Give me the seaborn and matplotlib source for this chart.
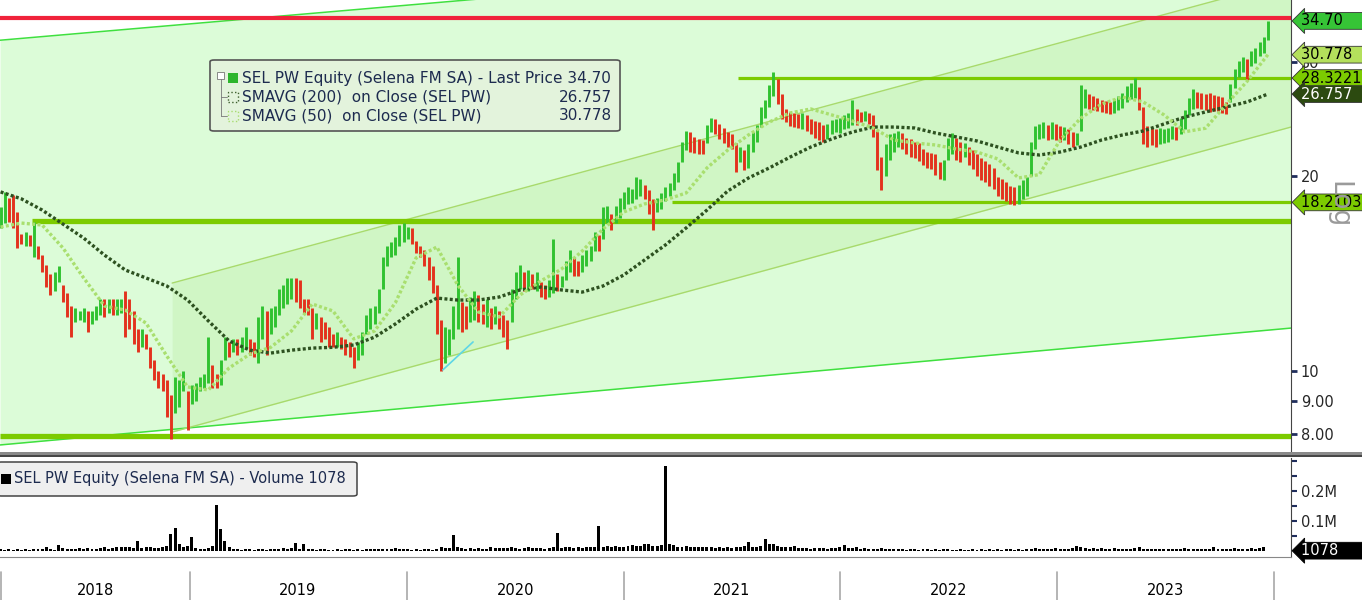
import numpy as np
import pandas as pd
import matplotlib
matplotlib.use("Agg")
import matplotlib.pyplot as plt
import matplotlib.dates as mdates
import matplotlib.transforms as mtransforms
from matplotlib.patches import FancyBboxPatch, Rectangle
from matplotlib.lines import Line2D
from matplotlib.ticker import NullLocator, NullFormatter
import seaborn as sns

W, H = 1362, 600

# --- values: weekly price ranges (PLN), volume in thousands ---
first_week = "2018-02-16"
week_low = [
    16.6, 16.9, 17.0, 16.6, 15.5, 15.7, 15.6, 15.6, 15.0, 14.9,
    14.2, 13.5, 13.1, 13.3, 13.7, 12.8, 12.1, 11.3, 11.9, 12.0,
    11.9, 11.5, 11.8, 12.0, 12.2, 12.1, 12.3, 12.2, 12.2, 12.3,
    11.3, 11.6, 11.0, 10.7, 10.9, 10.8, 10.1, 9.7, 9.4, 9.3,
    8.5, 7.85, 8.6, 8.8, 9.3, 8.1, 8.9, 9.0, 9.3, 9.4,
    9.6, 9.4, 9.4, 9.5, 10.4, 10.5, 10.7, 10.6, 10.7, 10.8,
    10.6, 10.5, 10.3, 11.2, 10.6, 11.4, 11.7, 12.2, 12.5, 12.7,
    12.9, 12.8, 12.5, 12.3, 12.2, 11.2, 11.6, 11.1, 11.2, 10.9,
    10.9, 10.9, 10.8, 10.6, 10.5, 10.1, 10.4, 10.6, 11.4, 11.6,
    11.8, 12.3, 13.4, 14.5, 15.0, 15.1, 15.6, 15.8, 16.0, 15.7,
    15.2, 15.0, 14.5, 13.8, 13.2, 11.4, 10.0, 10.3, 10.6, 11.2,
    11.6, 11.5, 11.6, 11.9, 12.0, 11.9, 11.8, 11.7, 11.6, 11.8,
    11.6, 11.3, 10.8, 11.9, 12.9, 13.4, 13.3, 13.3, 13.4, 13.3,
    13.0, 12.9, 13.0, 13.2, 13.3, 13.5, 13.8, 14.2, 14.0, 14.0,
    14.2, 14.5, 14.8, 15.3, 15.3, 16.0, 16.9, 16.5, 16.9, 17.2,
    17.8, 18.1, 18.2, 18.4, 18.6, 18.4, 17.5, 16.5, 17.6, 17.8,
    18.3, 18.6, 19.0, 19.6, 21.0, 21.9, 21.8, 21.7, 21.6, 21.6,
    22.5, 23.4, 23.2, 22.8, 22.5, 22.2, 22.0, 20.3, 21.0, 20.4,
    20.6, 21.8, 22.6, 23.8, 24.6, 25.6, 26.6, 25.8, 24.5, 24.2,
    23.9, 23.8, 23.7, 23.6, 23.5, 23.2, 22.9, 22.7, 22.6, 22.8,
    23.2, 23.4, 23.3, 23.6, 23.7, 24.0, 24.0, 24.2, 24.3, 24.1,
    23.0, 20.4, 19.0, 20.0, 21.2, 21.8, 22.2, 22.0, 21.6, 21.4,
    21.3, 21.1, 20.8, 20.6, 20.5, 20.1, 19.8, 19.7, 21.2, 21.6,
    21.2, 21.0, 21.4, 20.8, 20.5, 20.0, 19.7, 19.6, 19.3, 19.1,
    18.6, 18.4, 18.3, 18.1, 18.05, 18.1, 18.4, 18.6, 20.0, 22.0,
    22.8, 22.9, 22.7, 22.8, 22.7, 22.6, 22.7, 22.4, 22.2, 22.3,
    23.5, 25.5, 25.4, 25.3, 25.2, 25.1, 25.0, 24.9, 25.0, 25.3,
    25.5, 26.0, 26.3, 26.4, 25.3, 22.4, 22.2, 22.3, 22.2, 22.4,
    22.5, 22.6, 22.8, 22.7, 23.2, 23.6, 24.8, 25.4, 25.5, 25.4,
    25.3, 25.1, 25.2, 25.2, 25.0, 24.9, 26.0, 27.3, 28.4, 28.9,
    28.1, 29.6, 29.9, 30.6, 31.0, 32.4,
]
week_high = [
    17.9, 18.9, 18.5, 18.7, 17.6, 16.3, 16.4, 16.2, 17.0, 15.6,
    15.1, 14.6, 14.1, 14.2, 14.5, 13.6, 13.2, 12.6, 12.5, 12.4,
    12.5, 12.4, 12.4, 12.6, 12.9, 12.9, 12.9, 12.9, 12.9, 12.9,
    13.3, 12.9, 12.4, 11.6, 11.6, 11.4, 10.9, 10.4, 10.0, 9.9,
    9.7, 9.2, 9.8, 9.7, 10.0, 9.3, 9.5, 9.6, 9.8, 9.9,
    11.3, 10.2, 9.9, 10.4, 11.3, 11.1, 11.2, 11.2, 11.3, 11.7,
    11.2, 11.1, 12.1, 12.6, 12.4, 12.5, 12.6, 13.4, 13.6, 13.9,
    13.9, 13.9, 13.8, 12.9, 12.9, 12.5, 12.3, 12.1, 11.9, 11.7,
    11.4, 11.5, 11.3, 11.2, 11.1, 10.9, 11.1, 11.5, 12.2, 12.5,
    12.6, 13.4, 15.0, 15.6, 15.8, 16.1, 16.8, 16.9, 16.7, 16.6,
    15.9, 15.6, 15.4, 15.0, 14.5, 13.6, 12.0, 11.7, 11.6, 12.6,
    15.0, 12.8, 12.6, 13.0, 13.3, 13.1, 12.7, 12.9, 12.5, 12.6,
    12.4, 12.2, 12.0, 13.4, 14.2, 14.6, 14.2, 14.3, 14.1, 14.2,
    13.7, 13.6, 13.8, 16.0, 14.1, 14.0, 14.8, 15.4, 15.0, 14.8,
    15.1, 15.4, 15.6, 16.4, 16.2, 17.9, 18.0, 17.5, 18.0, 18.5,
    18.9, 19.2, 19.1, 19.9, 19.8, 19.4, 19.0, 18.4, 18.5, 18.8,
    19.2, 19.5, 20.2, 21.0, 22.6, 23.5, 23.4, 23.0, 22.8, 22.7,
    24.0, 24.6, 24.5, 24.1, 23.7, 23.4, 23.2, 22.5, 22.2, 21.9,
    22.4, 23.4, 24.0, 25.6, 26.2, 27.6, 28.9, 28.2, 26.8, 25.4,
    25.1, 25.0, 24.9, 25.0, 24.8, 24.5, 24.3, 24.2, 24.0, 24.1,
    24.4, 24.5, 24.6, 24.8, 25.0, 26.2, 25.4, 25.1, 25.2, 25.0,
    24.8, 23.5, 21.4, 22.4, 23.2, 23.3, 23.5, 23.3, 22.9, 22.8,
    22.6, 22.5, 22.0, 21.8, 21.7, 21.6, 21.0, 21.2, 22.9, 23.3,
    22.9, 22.6, 22.5, 22.2, 21.9, 21.6, 21.3, 21.1, 20.9, 20.6,
    19.9, 19.8, 19.6, 19.3, 19.2, 19.4, 19.7, 19.9, 22.6, 23.9,
    24.1, 24.2, 24.0, 24.2, 24.1, 23.9, 23.8, 23.6, 23.4, 23.3,
    27.6, 27.2, 26.8, 26.6, 26.4, 26.2, 26.1, 26.0, 26.3, 26.6,
    26.9, 27.5, 27.8, 28.3, 27.4, 25.6, 23.9, 23.7, 23.6, 23.7,
    23.6, 23.7, 23.9, 23.8, 24.6, 25.3, 26.4, 27.2, 27.0, 26.9,
    26.8, 26.9, 26.7, 26.6, 26.5, 26.0, 27.7, 29.2, 30.1, 30.5,
    30.3, 31.2, 31.5, 32.2, 32.8, 34.7,
]
volume_k = [
    6, 5, 7, 4, 6, 5, 8, 5, 6, 7,
    8, 12, 6, 5, 20, 9, 7, 6, 8, 10,
    7, 9, 6, 8, 10, 14, 7, 9, 13, 12,
    14, 12, 11, 35, 9, 12, 14, 10, 9, 12,
    18, 57, 77, 22, 15, 18, 47, 10, 6, 8,
    9, 17, 153, 73, 33, 12, 8, 6, 5, 7,
    6, 5, 7, 6, 5, 8, 6, 7, 9, 7,
    10, 27, 8, 25, 7, 6, 5, 7, 6, 5,
    5, 6, 5, 7, 6, 5, 6, 5, 7, 6,
    7, 6, 8, 7, 6, 9, 8, 6, 7, 5,
    6, 5, 7, 6, 5, 8, 12, 9, 10, 53,
    12, 9, 8, 10, 7, 9, 8, 7, 12, 10,
    9, 11, 10, 13, 9, 8, 11, 12, 10, 9,
    10, 8, 11, 14, 60, 9, 12, 15, 11, 13,
    10, 14, 12, 15, 83, 13, 16, 14, 18, 15,
    14, 17, 20, 16, 18, 22, 25, 18, 16, 20,
    283, 24, 19, 15, 13, 17, 14, 12, 15, 13,
    14, 12, 11, 13, 10, 12, 11, 14, 12, 16,
    30, 14, 12, 18, 40, 25, 22, 18, 13, 15,
    12, 16, 11, 9, 10, 8, 9, 10, 11, 8,
    9, 10, 12, 20, 11, 10, 14, 8, 9, 7,
    8, 7, 9, 6, 7, 8, 6, 7, 5, 6,
    6, 5, 6, 7, 5, 6, 5, 7, 6, 5,
    5, 6, 5, 4, 6, 5, 7, 5, 6, 5,
    6, 5, 7, 6, 5, 6, 5, 7, 8, 9,
    7, 6, 8, 7, 9, 8, 6, 7, 10, 16,
    12, 9, 8, 10, 7, 9, 8, 7, 9, 8,
    7, 8, 6, 9, 14, 7, 6, 8, 7, 6,
    7, 6, 8, 7, 6, 9, 7, 6, 8, 7,
    6, 8, 13, 7, 6, 8, 7, 9, 6, 7,
    8, 9, 7, 10, 12, 1.078,
]
# moving averages sampled every 5th week
sma200 = [
    18.90, 18.44, 17.72, 16.86, 16.04, 15.10, 14.32, 13.92, 13.53, 12.87,
    11.95, 11.13, 10.77, 10.66, 10.77, 10.85, 10.88, 10.97, 11.28, 11.82,
    12.46, 12.96, 12.87, 12.87, 13.01, 13.34, 13.48, 13.34, 13.24, 13.53,
    14.07, 14.84, 15.65, 16.63, 17.72, 18.96, 19.86, 20.58, 21.39, 22.17,
    22.81, 23.38, 23.80, 23.80, 23.72, 23.30, 22.98, 22.65, 22.17, 21.71,
    21.55, 21.78, 22.17, 22.73, 23.14, 23.47, 24.06, 24.66, 25.11, 25.56,
    26.02, 26.757,
]
sma50 = [
    16.68, 16.92, 16.80, 15.49, 13.92, 12.60, 12.42, 11.86, 10.55, 9.45,
    9.35, 10.11, 10.62, 10.88, 11.53, 12.69, 12.38, 11.21, 11.53, 12.74,
    14.95, 15.54, 13.58, 12.33, 12.12, 13.10, 13.77, 14.37, 15.32, 16.57,
    17.60, 18.11, 18.37, 18.83, 20.58, 21.93, 23.14, 24.23, 25.02, 25.38,
    24.85, 24.32, 23.72, 22.73, 22.49, 22.33, 22.01, 21.78, 21.25, 19.86,
    20.10, 22.73, 24.57, 25.83, 26.48, 26.02, 24.85, 23.40, 23.70, 25.80,
    28.00, 30.778,
]

view_start, view_end = "2018-02-15", "2024-01-30"

outer_channel_x = ["2018-02-15", "2024-01-30"]
outer_channel_low = [7.69, 11.65]
outer_channel_high = [32.4, 48.1]
inner_channel_x = ["2018-12-02", "2024-01-30"]
inner_channel_low = [8.05, 23.8]
inner_channel_high = [13.67, 40.1]
cyan_x = ["2020-03-02", "2020-04-22"]
cyan_y = [10.04, 11.09]

level_start = ["2018-02-15", "2018-04-10", "2021-03-23", "2021-07-13", "2018-02-15"]
level_value = [35.1, 17.04, 18.2103, 28.3221, 7.94]

tag_value = [34.70, 30.778, 28.3221, 26.757, 18.2103]
tag_label = ["34.70", "30.778", "28.3221", "26.757", "18.2103"]
price_ticks = [8, 9, 10, 20, 30]
price_tick_labels = ["8.00", "9.00", "10", "20", "30"]
years = [2018, 2019, 2020, 2021, 2022, 2023]
last_volume = 1078

# ---------------------

sns.set_style("white")
plt.rcParams["font.family"] = ["DejaVu Sans"]

d2n = lambda s: mdates.date2num(pd.to_datetime(s))
dates = pd.date_range(first_week, periods=len(week_low), freq="7D")
xd = mdates.date2num(dates)
lo = np.array(week_low)
hi = np.array(week_high)
mid = (lo + hi) / 2
up = np.r_[True, mid[1:] >= mid[:-1]]
bar_colors = np.where(up, "#30c230", "#e3321d")
x0, x1 = d2n(view_start), d2n(view_end)


def fx(x):
    return x / W


def fy(y):
    return 1 - y / H


fig = plt.figure(figsize=(W / 100, H / 100), dpi=100)
right_px = 1291
axp = fig.add_axes([0, fy(452), fx(right_px), 452 / H])
axv = fig.add_axes([0, fy(557), fx(right_px), (557 - 458) / H])
axd = fig.add_axes([0, 0, fx(right_px), 37 / H])

# price panel
axp.set_facecolor("white")
axp.set_yscale("log")
axp.set_ylim(7.50, 37.38)
axp.set_xlim(x0, x1)

ox = d2n(outer_channel_x)
ix = d2n(inner_channel_x)
axp.fill_between(ox, outer_channel_low, outer_channel_high, color="#dcfcd8", lw=0, zorder=0)
axp.fill_between(ix, inner_channel_low, inner_channel_high, color="#d0f6c5", lw=0, zorder=0.5)
axp.plot(ox, outer_channel_low, color="#3fe03f", lw=1.1, zorder=1)
axp.plot(ox, outer_channel_high, color="#3fe03f", lw=1.1, zorder=1)
axp.plot(ix, inner_channel_low, color="#a8da6c", lw=1.0, zorder=1)
axp.plot(ix, inner_channel_high, color="#a8da6c", lw=1.0, zorder=1)
axp.plot(d2n(cyan_x), cyan_y, color="#5ed6e6", lw=1.2, zorder=3.5)

level_colors = ["#f0233b", "#7ccb00", "#7ccb00", "#7ccb00", "#7ccb00"]
level_widths = [3.0, 3.8, 2.3, 2.3, 3.8]
for s, v, c, w in zip(level_start, level_value, level_colors, level_widths):
    axp.hlines(v, d2n(s), x1, color=c, lw=w, zorder=2)

axp.vlines(xd, lo, hi, colors=bar_colors, lw=2.1, zorder=3)

sma_x = xd[::5]
sns.lineplot(x=sma_x, y=sma200, ax=axp, color="#2d5120", lw=2.4,
             linestyle=(0, (0.9, 0.7)), legend=False, zorder=4)
sns.lineplot(x=sma_x, y=sma50, ax=axp, color="#a9df6f", lw=2.4,
             linestyle=(0, (0.9, 0.7)), legend=False, zorder=4)

for s in ["top", "left", "bottom"]:
    axp.spines[s].set_visible(False)
axp.spines["right"].set_color("#444444")
axp.yaxis.tick_right()
axp.set_yticks(price_ticks)
axp.set_yticklabels(price_tick_labels)
axp.yaxis.set_minor_locator(NullLocator())
axp.yaxis.set_minor_formatter(NullFormatter())
axp.tick_params(axis="y", which="major", direction="out", length=4, width=2,
                color="#1f2d5c", labelsize=10.5, pad=3)
axp.tick_params(axis="x", bottom=False, labelbottom=False)
axp.set_xlabel("")
axp.set_ylabel("")

tag_style = [("#36c436", "black"), ("#b4e05c", "black"), ("#7ccb00", "black"),
             ("#2c4a10", "white"), ("#7ccb00", "black")]
trans = mtransforms.blended_transform_factory(axp.transAxes, axp.transData)
for v, t, (fc, tc) in zip(tag_value, tag_label, tag_style):
    axp.text(1.0075, v, t + "        ", transform=trans, ha="left", va="center",
             fontsize=10.5, color=tc, clip_on=False, zorder=10,
             bbox=dict(boxstyle="larrow,pad=0.06", fc=fc, ec="#333333", lw=0.6))

# volume panel
axv.set_facecolor("white")
axv.bar(xd, volume_k, width=5, color="black", lw=0, zorder=2)
axv.set_xlim(x0, x1)
axv.set_ylim(-20, 310)
for s in ["top", "left"]:
    axv.spines[s].set_visible(False)
axv.spines["right"].set_color("#444444")
axv.spines["bottom"].set_color("#888888")
axv.yaxis.tick_right()
axv.set_yticks([100, 200])
axv.set_yticklabels(["0.1M", "0.2M"])
axv.set_yticks([50, 150, 250, 300], minor=True)
axv.tick_params(axis="y", which="both", direction="out", length=4, width=1.5,
                color="#1f2d5c", labelsize=10.5, pad=3)
axv.xaxis.set_major_locator(mdates.MonthLocator())
axv.xaxis.set_major_formatter(NullFormatter())
axv.tick_params(axis="x", direction="out", length=5, width=1, color="#555555")
axv.set_xlabel("")
axv.set_ylabel("")
transv = mtransforms.blended_transform_factory(axv.transAxes, axv.transData)
axv.text(1.0075, last_volume / 1000, f"{last_volume}" + "          ", transform=transv,
         ha="left", va="center", fontsize=10.5, color="white", clip_on=False, zorder=10,
         bbox=dict(boxstyle="larrow,pad=0.06", fc="black", ec="black", lw=0.6))

# date band
axd.set_xlim(x0, x1)
axd.set_ylim(0, 1)
axd.axis("off")
bounds = [x0 + 1] + [d2n(f"{y + 1}-01-01") for y in years]
for b in bounds:
    axd.axvline(b, ymin=0, ymax=0.76, color="#a8a8a8", lw=1.2)
for i, y in enumerate(years):
    centre = (bounds[i] + bounds[i + 1]) / 2 if i == 0 else d2n(f"{y}-07-02")
    axd.text(centre, 0.27, str(y), ha="center", va="center", fontsize=10.5, color="black")

# separator between panels
fig.add_artist(Rectangle((0, fy(457)), 1, 5 / H, transform=fig.transFigure,
                         fc="#8a8a8a", ec="none", zorder=5))
fig.add_artist(Line2D([0, 1], [fy(455.5), fy(455.5)], transform=fig.transFigure,
                      color="#3a3a3a", lw=1.2, zorder=6))

fig.text(fx(1338), fy(205), "Log", rotation=270, fontsize=19, color="#9a9a9a",
         ha="center", va="center")

# price legend box
fig.add_artist(FancyBboxPatch((fx(210), fy(131)), fx(410), 71 / H,
                              boxstyle="round,pad=0,rounding_size=0.003",
                              transform=fig.transFigure, fc="#e3f3dc", ec="#555555",
                              lw=1.2, zorder=7))
fig.add_artist(Rectangle((fx(217), fy(79)), fx(7), 7 / H, transform=fig.transFigure,
                         fc="white", ec="#777777", lw=0.6, zorder=8))
fig.add_artist(Line2D([fx(220.5), fx(220.5)], [fy(79), fy(116)], transform=fig.transFigure,
                      color="#777777", lw=0.6, zorder=8))
for yy in [97, 116]:
    fig.add_artist(Line2D([fx(220.5), fx(227)], [fy(yy), fy(yy)], transform=fig.transFigure,
                          color="#777777", lw=0.6, zorder=8))
fig.add_artist(Rectangle((fx(228), fy(83)), fx(10), 10 / H, transform=fig.transFigure,
                         fc="#2db52d", ec="none", zorder=8))
for yy, c in [(102, "#3d5f2d"), (121, "#a8dc70")]:
    fig.add_artist(Rectangle((fx(228), fy(yy)), fx(10), 10 / H, transform=fig.transFigure,
                             fc="none", ec=c, lw=1.0, ls=":", zorder=8))
txt_c = "#1d2b4f"
fig.text(fx(242), fy(78), "SEL PW Equity (Selena FM SA) - Last Price 34.70",
         fontsize=11, color=txt_c, va="center", zorder=9)
fig.text(fx(242), fy(97), "SMAVG (200)  on Close (SEL PW)", fontsize=11, color=txt_c,
         va="center", zorder=9)
fig.text(fx(612), fy(97), "26.757", fontsize=11, color=txt_c, va="center", ha="right", zorder=9)
fig.text(fx(242), fy(116), "SMAVG (50)  on Close (SEL PW)", fontsize=11, color=txt_c,
         va="center", zorder=9)
fig.text(fx(612), fy(116), "30.778", fontsize=11, color=txt_c, va="center", ha="right", zorder=9)

# volume legend box
fig.add_artist(FancyBboxPatch((fx(-3), fy(496)), fx(360), 34 / H,
                              boxstyle="round,pad=0,rounding_size=0.003",
                              transform=fig.transFigure, fc="#efefef", ec="#444444",
                              lw=1.1, zorder=7))
fig.add_artist(Rectangle((fx(1), fy(484)), fx(10), 10 / H, transform=fig.transFigure,
                         fc="black", ec="none", zorder=8))
fig.text(fx(14), fy(479), f"SEL PW Equity (Selena FM SA) - Volume {last_volume}",
         fontsize=10.5, color=txt_c, va="center", zorder=9)

fig.savefig("out.png", dpi=100)
